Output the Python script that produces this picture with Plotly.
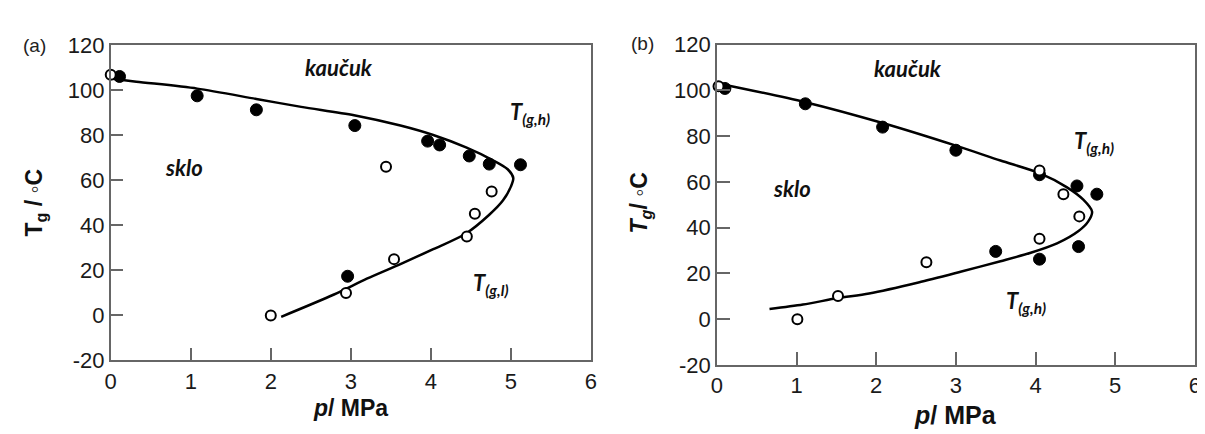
import plotly.graph_objects as go

# ---------------- data: panel (a) ----------------
a_fill_p = [0.11, 1.08, 1.82, 3.05, 3.96, 4.11, 4.48, 4.73, 5.12, 2.96]
a_fill_T = [106.1, 97.5, 91.3, 84.3, 77.4, 75.7, 70.8, 67.2, 66.9, 17.4]
a_open_p = [0.0, 3.44, 4.76, 4.55, 4.45, 3.54, 2.94, 2.0]
a_open_T = [106.9, 66.0, 55.0, 45.1, 35.0, 25.0, 10.0, 0.0]
a_curve_p = [0.0, 0.32, 1.08, 1.82, 2.38, 3.04, 3.62, 4.03, 4.44, 4.77, 4.96, 5.03,
             5.0, 4.9, 4.73, 4.44, 4.03, 3.62, 3.2, 2.79, 2.13]
a_curve_T = [105.2, 103.8, 100.7, 96.1, 92.6, 88.9, 84.3, 80.1, 74.6, 69.0, 64.9, 61.0,
             57.2, 51.0, 44.7, 36.4, 29.4, 22.8, 16.3, 9.3, -0.6]

# ---------------- data: panel (b) ----------------
b_fill_p = [0.10, 1.11, 2.08, 3.0, 4.05, 4.52, 4.77, 3.5, 4.05, 4.54]
b_fill_T = [100.8, 94.1, 83.9, 73.8, 63.1, 58.2, 54.6, 29.6, 26.2, 31.7]
b_open_p = [0.02, 4.05, 4.35, 4.55, 4.05, 2.63, 1.52, 1.01]
b_open_T = [101.8, 64.9, 54.6, 44.9, 35.1, 24.9, 10.1, 0.0]
b_curve_p = [0.0, 1.11, 2.08, 3.0, 3.56, 4.05, 4.39, 4.6, 4.71, 4.66, 4.54, 4.27,
             3.94, 3.56, 3.07, 2.53, 1.91, 1.52, 1.08, 0.66]
b_curve_T = [103.1, 94.8, 85.7, 75.8, 69.3, 63.8, 57.7, 52.2, 47.0, 42.6, 38.5, 33.1,
             29.0, 25.3, 20.8, 16.0, 11.2, 9.2, 6.4, 4.4]

x_ticks = [0, 1, 2, 3, 4, 5, 6]
x_ticktext = ["0", "1", "2", "3", "4", "5", "6"]
y_ticks = [-20, 0, 20, 40, 60, 80, 100, 120]
y_ticktext = ["-20", "0", "20", "40", "60", "80", "100", "120"]

W, H = 1205, 434
fig = go.Figure()

def add_panel(xa, ya, cp, cT, fp, fT, op, oT):
    fig.add_trace(go.Scatter(x=cp, y=cT, mode="lines", line=dict(color="black", width=2.5, shape="spline", smoothing=0.8),
                             xaxis=xa, yaxis=ya, showlegend=False, hoverinfo="skip"))
    fig.add_trace(go.Scatter(x=fp, y=fT, mode="markers", cliponaxis=False,
                             marker=dict(size=12, color="black", line=dict(color="black", width=1)),
                             xaxis=xa, yaxis=ya, showlegend=False))
    fig.add_trace(go.Scatter(x=op, y=oT, mode="markers", cliponaxis=False,
                             marker=dict(size=10, color="white", line=dict(color="black", width=2)),
                             xaxis=xa, yaxis=ya, showlegend=False))

add_panel("x", "y", a_curve_p, a_curve_T, a_fill_p, a_fill_T, a_open_p, a_open_T)
add_panel("x2", "y2", b_curve_p, b_curve_T, b_fill_p, b_fill_T, b_open_p, b_open_T)

tickfont = dict(family="Liberation Sans, Arial, sans-serif", size=22, color="#1a1a1a")
axcommon = dict(showline=True, mirror=True, linecolor="#666", linewidth=1.5,
                ticks="inside", ticklen=13, tickwidth=1.5, tickcolor="#666",
                showgrid=False, zeroline=False, tickfont=tickfont)

fig.update_layout(
    width=W, height=H, margin=dict(l=0, r=0, t=0, b=0),
    paper_bgcolor="white", plot_bgcolor="white",
    xaxis=dict(domain=[97.7 / W, 582.7 / W], range=[0, 6], tickvals=x_ticks, ticktext=x_ticktext,
               anchor="y", **axcommon),
    yaxis=dict(domain=[1 - 361.3 / H, 1 - 26.7 / H], range=[-20, 120], tickvals=y_ticks, ticktext=y_ticktext,
               anchor="x", **axcommon),
    xaxis2=dict(domain=[710 / W, 1192.7 / W], range=[0, 6], tickvals=x_ticks, ticktext=x_ticktext,
                anchor="y2", **axcommon),
    yaxis2=dict(domain=[1 - 366 / H, 1 - 26 / H], range=[-20, 120], tickvals=y_ticks, ticktext=y_ticktext,
                anchor="x2", **axcommon),
)

lab = dict(family="Lato, Open Sans, sans-serif", size=22, color="#111")
ann = []
def A(x, y, text, xref, yref, font, xanchor="center", yanchor="middle", angle=0):
    ann.append(dict(x=x, y=y, text=text, xref=xref, yref=yref, showarrow=False, font=font,
                    xanchor=xanchor, yanchor=yanchor, textangle=angle))

# panel (a) labels
A(2.85, 110.0, "<b><i>kaučuk</i></b>", "x", "y", lab)
A(0.92, 65.6, "<b><i>sklo</i></b>", "x", "y", lab)
A(4.96, 90.0, "<b><i>T<sub>(g,h)</sub></i></b>", "x", "y", lab, xanchor="left")
A(4.50, 14.0, "<b><i>T<sub>(g,l)</sub></i></b>", "x", "y", lab, xanchor="left")
# panel (b) labels
A(2.40, 109.5, "<b><i>kaučuk</i></b>", "x2", "y2", lab)
A(0.945, 56.9, "<b><i>sklo</i></b>", "x2", "y2", lab)
A(4.46, 77.5, "<b><i>T<sub>(g,h)</sub></i></b>", "x2", "y2", lab, xanchor="left")
A(3.61, 7.5, "<b><i>T<sub>(g,h)</sub></i></b>", "x2", "y2", lab, xanchor="left")

axt = dict(family="Liberation Sans, Arial, sans-serif", size=23, color="#111")
axt2 = dict(family="Liberation Sans, Arial, sans-serif", size=25, color="#111")
A(340 / W, 1 - 412 / H, "<b><i>p</i>/ MPa</b>", "paper", "paper", axt)
A(951 / W, 1 - 419 / H, "<b><i>p</i>/ MPa</b>", "paper", "paper", axt2)
A(22 / W, 1 - 194 / H, "<b>T<sub>g</sub> / ◦C</b>", "paper", "paper", axt, angle=-90)
A(633 / W, 1 - 194 / H, "<b><i>T<sub>g</sub></i>/ ◦C</b>", "paper", "paper", axt, angle=-90)

pl = dict(family="Liberation Sans, Arial, sans-serif", size=19, color="#222")
A(21 / W, 1 - 27 / H, "(a)", "paper", "paper", pl)
A(635 / W, 1 - 25 / H, "(b)", "paper", "paper", pl)

fig.update_layout(annotations=ann)
fig.write_html("out.html")
